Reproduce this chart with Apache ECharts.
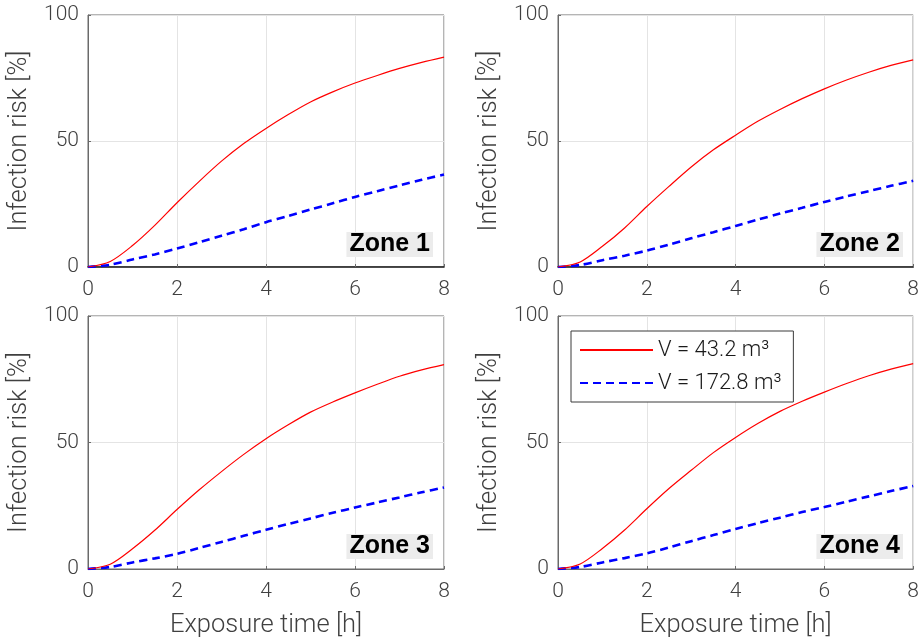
<!DOCTYPE html>
<html>
<head>
<meta charset="utf-8">
<script src="https://cdn.jsdelivr.net/npm/echarts@6/dist/echarts.min.js"></script>
<style>html,body{margin:0;padding:0;background:#fff}#c{width:922px;height:641px}</style>
</head>
<body>
<div id="c"></div>
<script>
const hours = [0,0.5,1,1.5,2,2.5,3,3.5,4,4.5,5,5.5,6,6.5,7,7.5,8];
const zoneNames = ['Zone 1','Zone 2','Zone 3','Zone 4'];
const seriesNames = ['V = 43.2 m³','V = 172.8 m³'];
const z1Small = [0,2.2,8.5,16.5,25.5,34,42,49,55,60.5,65.5,69.5,73,76,78.8,81.2,83.3];
const z1Large = [0,0.9,3,5,7.3,9.8,12.4,15,17.8,20.2,22.8,25.3,27.8,30.1,32.4,34.6,36.7];
const z2Small = [0,2.0,8.2,15.5,24,32,39.7,46.5,52.3,57.8,62.5,66.8,70.7,74.2,77.3,80,82.2];
const z2Large = [0,0.8,2.7,4.5,6.5,8.9,11.4,13.8,16.3,18.8,21.2,23.5,25.8,28,30.1,32.2,34.2];
const z3Small = [0,1.9,8.0,15.3,23.5,31.3,38.5,45.3,51.5,57,62,66,69.6,73,76.2,78.7,80.8];
const z3Large = [0,0.8,2.6,4.2,6.0,8.3,10.7,13.1,15.5,17.8,20.0,22.2,24.3,26.3,28.3,30.3,32.2];
const z4Small = [0,2.0,8.1,15.4,23.8,31.8,39,46,52,57.5,62.3,66.3,69.9,73.3,76.4,79,81.2];
const z4Large = [0,0.8,2.6,4.3,6.2,8.5,11,13.4,15.8,18.1,20.3,22.5,24.5,26.6,28.7,30.8,32.8];
const xTicks = [0,2,4,6,8];
const yTicks = [0,50,100];

const smallSets = [z1Small,z2Small,z3Small,z4Small];
const largeSets = [z1Large,z2Large,z3Large,z4Large];

const FONT = 'Roboto';
const TXT = '#404040';
const grids = [
  {left:88, top:15, width:356, height:252},
  {left:558, top:15, width:356, height:252},
  {left:88, top:316, width:356, height:253},
  {left:558, top:316, width:356, height:253}
];
const bottomAxisColor = ['#1a1a1a','#1a1a1a','#6a6a6a','#6a6a6a'];

const option = {
  animation:false,
  backgroundColor:'#fff',
  grid: grids.map(g => Object.assign({show:true, borderColor:'#6a6a6a', borderWidth:1, backgroundColor:'#fff'}, g)),
  xAxis: grids.map((g,i) => ({
    type:'value', gridIndex:i, min:xTicks[0], max:xTicks[xTicks.length-1], interval:2,
    name: i>=2 ? 'Exposure time [h]' : '', nameLocation:'middle', nameGap:44,
    nameTextStyle:{fontFamily:FONT, fontWeight:300, fontSize:25.5, color:TXT},
    axisLine:{show:true, onZero:false, lineStyle:{color:bottomAxisColor[i], width:i<2?1.6:1}},
    axisTick:{show:true, inside:true, length:3, lineStyle:{color:'#6a6a6a'}},
    axisLabel:{fontFamily:FONT, fontWeight:300, fontSize:21, color:TXT, margin:12},
    splitLine:{show:true, lineStyle:{color:'#e4e4e4', width:1}}
  })),
  yAxis: grids.map((g,i) => ({
    type:'value', gridIndex:i, min:yTicks[0], max:yTicks[yTicks.length-1], interval:50,
    name:'Infection risk [%]', nameLocation:'middle', nameGap:55, nameRotate:90,
    nameTextStyle:{fontFamily:FONT, fontWeight:300, fontSize:25.5, color:TXT},
    axisLine:{show:true, lineStyle:{color:'#6a6a6a', width:1}},
    axisTick:{show:true, inside:true, length:3, lineStyle:{color:'#6a6a6a'}},
    axisLabel:{fontFamily:FONT, fontWeight:300, fontSize:21, color:TXT, margin:9},
    splitLine:{show:true, lineStyle:{color:'#e4e4e4', width:1}}
  })),
  title: zoneNames.map((z,i) => ({
    text:z,
    right: 922 - (grids[i].left + grids[i].width) + 11,
    bottom: 641 - (grids[i].top + grids[i].height) + 10,
    backgroundColor:'#ececec',
    padding:[0,3,0,3],
    textStyle:{fontFamily:'Liberation Sans', fontWeight:'bold', fontSize:25, color:'#000'}
  })),
  legend: {
    data: seriesNames,
    orient:'vertical',
    left:571, top:331,
    padding:[8,12,8,8],
    itemGap:11,
    itemWidth:73, itemHeight:14,
    backgroundColor:'#fff',
    borderColor:'#3a3a3a', borderWidth:1,
    itemStyle:{opacity:0},
    textStyle:{fontFamily:FONT, fontWeight:300, fontSize:22, color:'#1a1a1a'}
  },
  series: []
};

for (let i=0;i<4;i++){
  option.series.push({
    name:seriesNames[0], type:'line', xAxisIndex:i, yAxisIndex:i,
    data: hours.map((h,k)=>[h, smallSets[i][k]]),
    smooth:0.3, showSymbol:false, symbol:'none',
    lineStyle:{color:'#ff0000', width:1.2}, itemStyle:{color:'#ff0000'}, z:3
  });
  option.series.push({
    name:seriesNames[1], type:'line', xAxisIndex:i, yAxisIndex:i,
    data: hours.map((h,k)=>[h, largeSets[i][k]]),
    smooth:0.3, showSymbol:false, symbol:'none',
    lineStyle:{color:'#0000ff', width:2.6, type:[8,5]}, itemStyle:{color:'#0000ff'}, z:2
  });
}

const chart = echarts.init(document.getElementById('c'), null, {renderer:'canvas'});
chart.setOption(option);
</script>
</body>
</html>
